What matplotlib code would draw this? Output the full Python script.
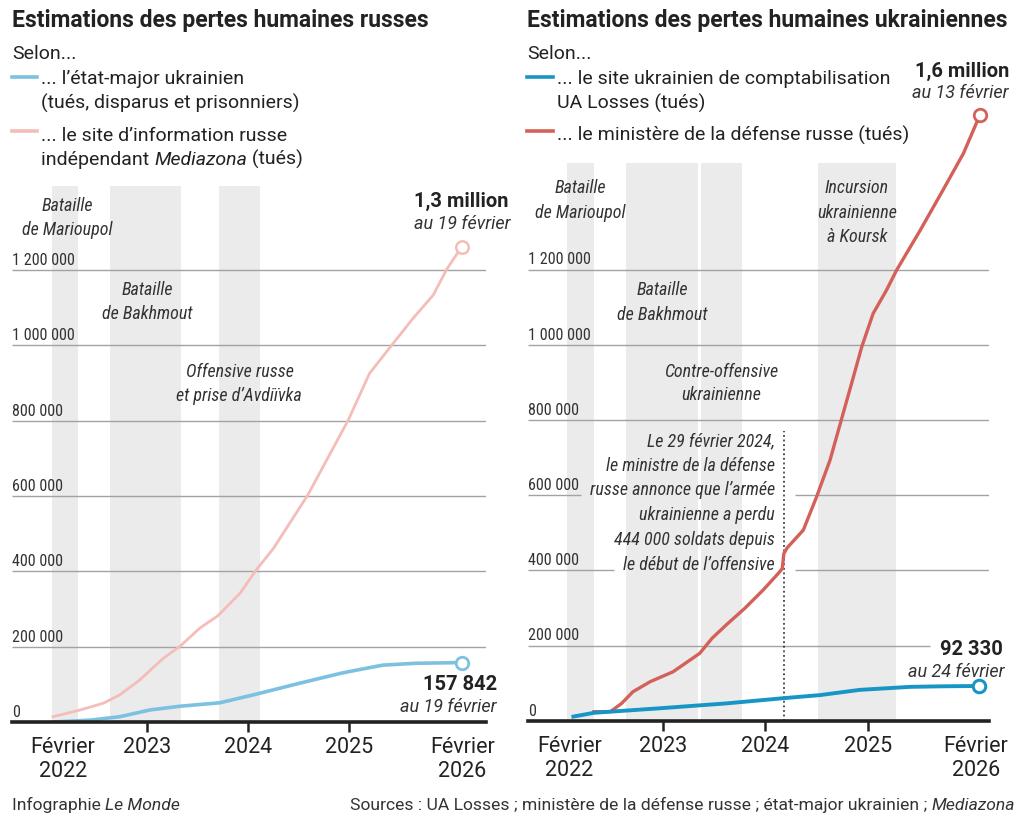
import matplotlib
matplotlib.use('Agg')
import matplotlib.pyplot as plt
from matplotlib import font_manager as fm

# ---------------- data ----------------
# Russian losses
ru_etatmajor_x = [2022.07, 2022.44, 2022.73, 2023.03, 2023.33, 2023.72, 2024.05, 2024.51,
                  2024.91, 2025.00, 2025.33, 2025.66, 2026.11]
ru_etatmajor_y = [0, 5000, 14000, 32000, 42000, 51000, 72000, 103000,
                  129000, 134000, 151000, 156000, 157842]
ru_mediazona_x = [2022.07, 2022.34, 2022.57, 2022.73, 2022.93, 2023.16, 2023.33, 2023.52,
                  2023.70, 2023.92, 2024.08, 2024.25, 2024.59, 2024.99, 2025.20, 2025.42,
                  2025.63, 2025.83, 2025.96, 2026.11]
ru_mediazona_y = [14000, 32000, 50000, 72000, 112000, 169000, 202000, 249000,
                  282000, 342000, 404000, 461000, 603000, 802000, 926000, 1001000,
                  1072000, 1134000, 1201000, 1262000]
# Ukrainian losses
ua_losses_x = [2022.13, 2022.33, 2022.97, 2023.62, 2024.18, 2024.53, 2024.92, 2025.41,
               2025.73, 2026.08]
ua_losses_y = [11000, 21000, 33000, 46000, 60000, 68000, 82000, 90000, 91500, 92330]
ua_ministere_x = [2022.33, 2022.49, 2022.60, 2022.71, 2022.88, 2023.10, 2023.36, 2023.48,
                  2023.62, 2023.80, 2023.98, 2024.14, 2024.165, 2024.18, 2024.21, 2024.37,
                  2024.50, 2024.63, 2024.74, 2024.84, 2024.94, 2025.05, 2025.18, 2025.28,
                  2025.51, 2025.73, 2025.93, 2026.09]
ua_ministere_y = [24000, 24000, 46000, 77000, 104000, 130000, 179000, 219000,
                  255000, 299000, 348000, 396000, 405000, 444000, 459000, 507000,
                  596000, 693000, 800000, 897000, 995000, 1083000, 1145000, 1199000,
                  1305000, 1411000, 1509000, 1611000]

x_tick_labels = ['Février\n2022', '2023', '2024', '2025', 'Février\n2026']
y_ticks = [0, 200000, 400000, 600000, 800000, 1000000, 1200000]
y_tick_labels = ['0', '200 000', '400 000', '600 000', '800 000', '1 000 000', '1 200 000']

bands_ru = [(2022.06, 2022.32), (2022.63, 2023.34), (2023.71, 2024.12)]
bands_ua = [(2022.07, 2022.33), (2022.64, 2023.34), (2023.37, 2023.77), (2024.51, 2025.27)]

annot_date = 2024.18   # 29 février 2024

# ---------------- fonts ----------------
STRETCH = {'ultra-condensed': 100, 'extra-condensed': 200, 'condensed': 300,
           'semi-condensed': 400, 'normal': 500, 'semi-expanded': 600, 'expanded': 700,
           'extra-expanded': 800, 'ultra-expanded': 900}


def _stretch(f):
    s = f.stretch
    return STRETCH.get(s, 500) if isinstance(s, str) else int(s)


def _weight(f):
    w = f.weight
    return fm.weight_dict.get(w, 400) if isinstance(w, str) else int(w)


def _narrow_fonts():
    out = []
    for f in fm.fontManager.ttflist:
        n = f.name.lower()
        if 'mono' in n or 'cjk' in n or 'serif' in n:
            continue
        if _stretch(f) <= 400 or 'narrow' in n or 'condensed' in n:
            out.append(f)
    return out


PREF = ['roboto', 'liberation', 'noto sans', 'open sans', 'dejavu sans', 'lato', 'inter']


def _rank(f):
    n = f.name.lower()
    r = len(PREF)
    for i, p in enumerate(PREF):
        if p in n:
            r = i
            break
    st = _stretch(f)
    return (r, abs(st - 300) if st < 500 else 0, abs(_weight(f) - 400))


narrow = _narrow_fonts()
reg = sorted([f for f in narrow if f.style == 'normal'], key=_rank)
NARROW_REG = NARROW_IT = None
if reg:
    best = reg[0]
    NARROW_REG = fm.FontProperties(fname=best.fname)
    its = sorted([f for f in narrow if f.name == best.name and f.style != 'normal'
                  and _stretch(f) == _stretch(best)], key=lambda f: abs(_weight(f) - 400))
    NARROW_IT = fm.FontProperties(fname=its[0].fname) if its else NARROW_REG
if NARROW_REG is None:
    NARROW_REG = fm.FontProperties(family=['Roboto', 'DejaVu Sans'])
    NARROW_IT = fm.FontProperties(family=['Roboto', 'DejaVu Sans'], style='italic')
    NSIZE = 11.2
else:
    NSIZE = 13

# ---------------- style ----------------
W, H = 1024, 819
PINK = '#f4bdb8'
LBLUE = '#7dc1e1'
RED = '#d4605a'
DBLUE = '#1796c6'
BAND = '#ebebeb'
GRID = '#a3a3a3'
INK = '#222222'
SANS = ['Roboto', 'DejaVu Sans']

fig = plt.figure(figsize=(W / 100, H / 100), dpi=100)
fig.patch.set_facecolor('white')
renderer = fig.canvas.get_renderer()


def T(x, y, s, **kw):
    kw.setdefault('va', 'baseline')
    kw.setdefault('color', INK)
    return fig.text(x / W, 1 - y / H, s, **kw)


def width(s, **kw):
    t = fig.text(0, 0, '|' + s + '|', **kw)
    w = t.get_window_extent(renderer).width
    t.remove()
    t = fig.text(0, 0, '||', **kw)
    w -= t.get_window_extent(renderer).width
    t.remove()
    return w


def rich(x, y, parts, ha='left', **kw):
    ws = [width(s, style=st, **kw) for s, st in parts]
    cur = x if ha == 'left' else x - sum(ws)
    for (s, st), w in zip(parts, ws):
        T(cur, y, s, style=st, ha='left', **kw)
        cur += w


def make_axes(px_left, px_right, px_bottom, x_at, yscale):
    (p1, y1), (p2, y2) = x_at
    ppy = (p2 - p1) / (y2 - y1)
    xl = y1 + (px_left - p1) / ppy
    xr = y1 + (px_right - p1) / ppy
    top_px = 100
    ax = fig.add_axes([px_left / W, 1 - px_bottom / H, (px_right - px_left) / W,
                       (px_bottom - top_px) / H])
    ax.set_xlim(xl, xr)
    ax.set_ylim(0, (px_bottom - top_px) / yscale * 200000)
    ax.set_facecolor('none')
    for s in ['top', 'right', 'left']:
        ax.spines[s].set_visible(False)
    ax.spines['bottom'].set_linewidth(2.6)
    ax.spines['bottom'].set_color(INK)
    ax.spines['bottom'].set_zorder(6)
    ax.tick_params(axis='y', left=False, labelleft=False)
    ax.tick_params(axis='x', direction='out', length=7, width=1.8, color=INK,
                   labelsize=15.5, pad=4, labelcolor=INK)
    return ax


def ylabels(ax):
    for v, lab in zip(y_ticks, y_tick_labels):
        ax.annotate(lab, xy=(0, v), xycoords=('axes fraction', 'data'),
                    xytext=(0, 3.6), textcoords='offset points', ha='left',
                    va='baseline', fontproperties=NARROW_REG.copy(),
                    fontsize=NSIZE - 1.4, color='#333333')


def xticks(ax, pos):
    ax.set_xticks(pos)
    ax.set_xticklabels(x_tick_labels, family=SANS, linespacing=1.2)
    ticks = ax.xaxis.get_major_ticks()
    ticks[0].tick1line.set_visible(False)
    ticks[-1].tick1line.set_visible(False)


# ---------------- left panel ----------------
ax1 = make_axes(12, 486, 722, [(147, 2023), (349.3, 2025)], 75.3)
band_top1 = (722 - 186) / 75.3 * 200000
for a, b in bands_ru:
    ax1.fill_between([a, b], 0, band_top1, color=BAND, lw=0, zorder=0)
x0, x1 = ax1.get_xlim()
for v in y_ticks[1:]:
    ax1.plot([x0, x1], [v, v], color=GRID, lw=1.0, zorder=1, solid_capstyle='butt')
ax1.plot(ru_mediazona_x, ru_mediazona_y, color=PINK, lw=2.0, zorder=3)
ax1.plot(ru_etatmajor_x, ru_etatmajor_y, color=LBLUE, lw=2.6, zorder=4)
ax1.plot(ru_mediazona_x[-1], ru_mediazona_y[-1], 'o', ms=9, mfc='white', mec=PINK, mew=1.8, zorder=5)
ax1.plot(ru_etatmajor_x[-1], ru_etatmajor_y[-1], 'o', ms=9, mfc='white', mec=LBLUE, mew=2.0, zorder=5)
ylabels(ax1)
xticks(ax1, [2022.17, 2023, 2024, 2025, 2026.12])

# ---------------- right panel ----------------
ax2 = make_axes(528, 989, 720.7, [(662.7, 2023), (868, 2025)], 75.2)
band_top2 = (720.7 - 163) / 75.2 * 200000
for a, b in bands_ua:
    ax2.fill_between([a, b], 0, band_top2, color=BAND, lw=0, zorder=0)
ax2.plot(ua_ministere_x, ua_ministere_y, color=RED, lw=2.4, zorder=3)
ax2.plot(ua_losses_x, ua_losses_y, color=DBLUE, lw=2.8, zorder=4)
ax2.plot(ua_ministere_x[-1], ua_ministere_y[-1], 'o', ms=9, mfc='white', mec=RED, mew=2.0, zorder=5)
ax2.plot(ua_losses_x[-1], ua_losses_y[-1], 'o', ms=9, mfc='white', mec=DBLUE, mew=2.2, zorder=5)
ax2.vlines(annot_date, 0, 770000, color=INK, lw=1.1, linestyles=(0, (1.2, 1.8)), zorder=2)
ylabels(ax2)
xticks(ax2, [2022.09, 2023, 2024, 2025, 2026.05])

# ---------------- texts ----------------
TITLE = dict(fontsize=16.5, fontweight='bold', family=SANS)
BODY = dict(fontsize=14, family=SANS)
T(12, 26.7, 'Estimations des pertes humaines russes', **TITLE)
T(527, 26.7, 'Estimations des pertes humaines ukrainiennes', **TITLE)

T(12, 59.3, 'Selon...', **BODY)
T(41, 84, '... l\u2019état-major ukrainien', **BODY)
T(41, 108.3, '(tués, disparus et prisonniers)', **BODY)
T(41, 140.7, '... le site d\u2019information russe', **BODY)
rich(41, 165, [('indépendant ', 'normal'), ('Mediazona', 'italic'), (' (tués)', 'normal')], **BODY)
fig.add_artist(plt.Line2D([12 / W, 37 / W], [1 - 77 / H] * 2, color=LBLUE, lw=2.6))
fig.add_artist(plt.Line2D([12 / W, 37 / W], [1 - 131 / H] * 2, color=PINK, lw=2.6))

T(527, 59.3, 'Selon...', **BODY)
T(557, 83.5, '... le site ukrainien de comptabilisation', **BODY)
T(557, 108.3, 'UA Losses (tués)', **BODY)
T(557, 140.3, '... le ministère de la défense russe (tués)', **BODY)
fig.add_artist(plt.Line2D([527 / W, 553 / W], [1 - 77 / H] * 2, color=DBLUE, lw=2.6))
fig.add_artist(plt.Line2D([527 / W, 553 / W], [1 - 131 / H] * 2, color=RED, lw=2.6))

NUM = dict(fontsize=14.5, fontweight='bold', family=SANS, ha='right')
DATE = dict(fontsize=13, style='italic', family=SANS, ha='right', color='#333333')
T(509, 207.3, '1,3 million', **NUM)
T(510, 229.3, 'au 19 février', **DATE)
T(497, 690, '157 842', **NUM)
T(497, 711.7, 'au 19 février', **DATE)
T(1009, 77.3, '1,6 million', **NUM)
T(1009, 97.7, 'au 13 février', **DATE)
T(1003, 655, '92 330', **NUM)
T(1004, 676.7, 'au 24 février', **DATE)


def ev(x, y, s, ha='center'):
    return T(x, y, s, fontproperties=NARROW_IT.copy(), fontsize=NSIZE, ha=ha, color='#333333')


for x, y, s in [(67, 211, 'Bataille'), (67, 235, 'de Marioupol'),
                (147, 295, 'Bataille'), (147, 319.3, 'de Bakhmout'),
                (240, 376.7, 'Offensive russe'), (239, 401, 'et prise d\u2019Avdiïvka'),
                (580, 193.3, 'Bataille'), (580, 218.3, 'de Marioupol'),
                (662, 295, 'Bataille'), (662, 320, 'de Bakhmout'),
                (721, 376.7, 'Contre-offensive'), (721, 400, 'ukrainienne'),
                (857, 193.3, 'Incursion'), (857, 218.3, 'ukrainienne'), (857, 241.7, 'à Koursk')]:
    ev(x, y, s)

annot_lines = ['Le 29 février 2024,', 'le ministre de la défense',
               'russe annonce que l\u2019armée', 'ukrainienne a perdu',
               '444 000 soldats depuis', 'le début de l\u2019offensive']
ann_objs = [ev(775, 446 + 24.7 * i, s, ha='right') for i, s in enumerate(annot_lines)]

# right-panel gridlines, interrupted around texts
fig.canvas.draw()
renderer = fig.canvas.get_renderer()
x0, x1 = ax2.get_xlim()
num_txt = [t for t in fig.texts if t.get_text() == '92 330'][0]
inv = ax2.transData.inverted()
dot_px = ax2.transData.transform((annot_date, 0))[0]
for v in y_ticks[1:]:
    ypx = ax2.transData.transform((0, v))[1]
    segs = [(x0, x1)]
    for t in ann_objs:
        bb = t.get_window_extent(renderer)
        if bb.y0 - 3 <= ypx <= bb.y1 + 3:
            a = inv.transform((bb.x0 - 9, ypx))[0]
            b = inv.transform((max(bb.x1, dot_px) + 11, ypx))[0]
            segs = [(x0, a), (b, x1)]
    bb = num_txt.get_window_extent(renderer)
    if bb.y0 - 6 <= ypx <= bb.y1 + 6:
        segs = [(s0, min(s1, inv.transform((bb.x0 - 10, ypx))[0])) for s0, s1 in segs]
    for s0, s1 in segs:
        ax2.plot([s0, s1], [v, v], color=GRID, lw=1.0, zorder=1, solid_capstyle='butt')

FOOT = dict(fontsize=12.6, family=SANS, color='#333333')
rich(12, 810, [('Infographie ', 'normal'), ('Le Monde', 'italic')], **FOOT)
rich(1015, 810, [('Sources : UA Losses ; ministère de la défense russe ; état-major ukrainien ; ', 'normal'),
                 ('Mediazona', 'italic')], ha='right', **FOOT)

fig.savefig('out.png', dpi=100, facecolor='white')
